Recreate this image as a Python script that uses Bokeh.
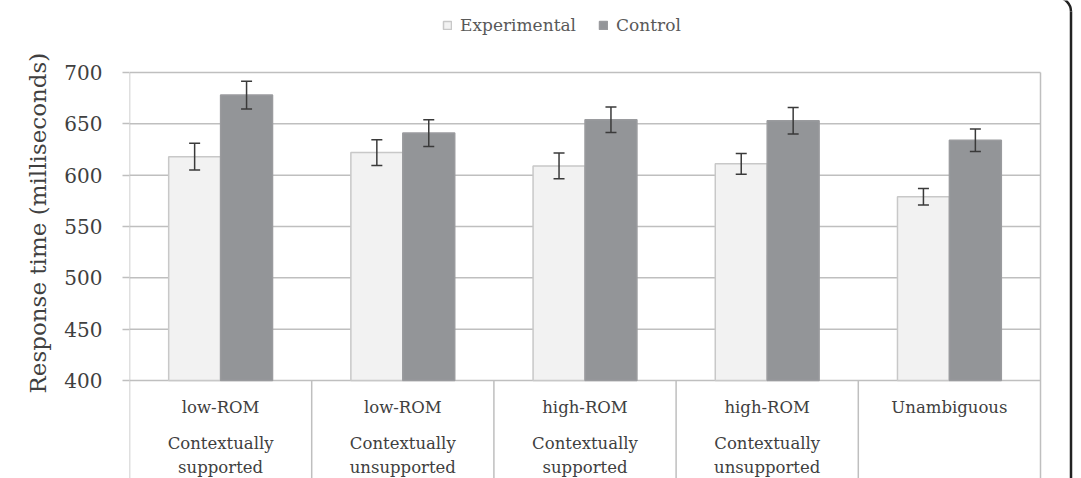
from bokeh.plotting import figure
from bokeh.models import (ColumnDataSource, Range1d, FixedTicker, Whisker, TeeHead,
                          Legend, LegendItem, Title)
from bokeh.transform import dodge
from bokeh.core.properties import value
from bokeh.embed import file_html
from bokeh.resources import INLINE

# ---- data ----
group_top = ["low-ROM", "low-ROM", "high-ROM", "high-ROM", "Unambiguous"]
group_sub = ["Contextually\nsupported", "Contextually\nunsupported",
             "Contextually\nsupported", "Contextually\nunsupported", ""]
experimental = [618, 622, 609, 611, 579]
experimental_err = [13, 12.5, 12.5, 10, 8]
control = [678, 641, 654, 653, 634]
control_err = [13.5, 13, 12.5, 13, 11]
y_ticks = [400, 450, 500, 550, 600, 650, 700]
series_names = ["Experimental", "Control"]
y_title = "Response time (milliseconds)"

# ---- layout constants ----
W, H = 1081, 478
LEFT, RIGHT = 129, 1040
Y_TOP_PX, Y_BASE_PX = 72, 380
n = len(group_top)
ppu = (Y_BASE_PX - Y_TOP_PX) / (y_ticks[-1] - y_ticks[0])   # px per y unit
ppx = (RIGHT - LEFT) / n                                     # px per category
y_end = y_ticks[-1] + Y_TOP_PX / ppu
y_start = y_ticks[0] - (H - Y_BASE_PX) / ppu
x_end = n + (W - RIGHT) / ppx
FONT = "DejaVu Serif"

def dx(px):
    return (px - LEFT) / ppx

def dy(py):
    return y_end - py / ppu

xc = [i + 0.5 for i in range(n)]
src = ColumnDataSource(dict(
    x=xc,
    exp=experimental,
    exp_lo=[v - e for v, e in zip(experimental, experimental_err)],
    exp_hi=[v + e for v, e in zip(experimental, experimental_err)],
    ctl=control,
    ctl_lo=[v - e for v, e in zip(control, control_err)],
    ctl_hi=[v + e for v, e in zip(control, control_err)],
    top=group_top,
    sub=group_sub,
))

p = figure(width=W, height=H, output_backend="svg", toolbar_location=None,
           x_range=Range1d(0, x_end), y_range=Range1d(y_start, y_end),
           min_border_left=LEFT, min_border_right=0,
           min_border_top=0, min_border_bottom=0)
p.outline_line_color = None
p.xaxis.visible = False
p.xgrid.visible = False
p.ygrid.visible = False
p.background_fill_color = "white"
p.border_fill_color = "white"

# y axis
ya = p.yaxis[0]
ya.ticker = FixedTicker(ticks=y_ticks)
ya.axis_line_color = None
ya.major_tick_line_color = "#BFBFBF"
ya.major_tick_line_width = 1.5
ya.major_tick_out = 7
ya.major_tick_in = 0
ya.minor_tick_line_color = None
ya.major_label_text_font = FONT
ya.major_label_text_font_size = "20px"
ya.major_label_text_color = "#404040"
ya.major_label_standoff = 20

# y axis title, starting just below the 400 baseline
ytitle = Title(text=y_title, align="left", offset=H - 393, standoff=22,
               text_font=FONT, text_font_size="23px", text_font_style="normal",
               text_color="#404040")
p.add_layout(ytitle, "left")

# horizontal gridlines (only across the categories)
p.segment(x0=[0] * len(y_ticks), y0=y_ticks, x1=[n] * len(y_ticks), y1=y_ticks,
          line_color="#BFBFBF", line_width=1.5)

# frame / category separators
sep_x = list(range(n + 1))
sep_y0 = [y_ticks[-1] if i in (0, n) else y_ticks[0] for i in sep_x]
p.segment(x0=sep_x, y0=sep_y0, x1=sep_x, y1=[y_start] * len(sep_x),
          line_color="#BFBFBF", line_width=1.5)

# bars
bw = 0.285
r_exp = p.vbar(x=dodge("x", -bw / 2, range=p.x_range), top="exp", bottom=y_ticks[0],
               width=bw, source=src, fill_color="#F2F2F2", line_color="#C8C8C8", line_width=1.5)
r_ctl = p.vbar(x=dodge("x", bw / 2, range=p.x_range), top="ctl", bottom=y_ticks[0],
               width=bw, source=src, fill_color="#939598", line_color="#9A9B9E", line_width=1.5)

# error bars
for key, off in (("exp", -bw / 2), ("ctl", bw / 2)):
    w = Whisker(base=dodge("x", off, range=p.x_range), lower=key + "_lo", upper=key + "_hi",
                source=src, line_color="#3a3a3a", line_width=1.5, level="overlay",
                upper_head=TeeHead(size=11, line_color="#3a3a3a", line_width=1.5),
                lower_head=TeeHead(size=11, line_color="#3a3a3a", line_width=1.5))
    p.add_layout(w)

# category labels
p.text(x="x", y=y_ticks[0], text="top", source=src, y_offset=27,
       text_align="center", text_baseline="middle",
       text_font=value(FONT), text_font_size="16.5px", text_color="#404040")
p.text(x="x", y=y_ticks[0], text="sub", source=src, y_offset=75,
       text_align="center", text_baseline="middle", text_line_height=1.3,
       text_font=value(FONT), text_font_size="16.5px", text_color="#404040")

# outer figure border (right edge with rounded top corner)
R = 14
BX, BY = 1070.5, 11
p.line(x=[dx(BX), dx(BX)], y=[dy(BY), y_start], line_color="#222222", line_width=2.5)
p.arc(x=dx(BX - R), y=dy(BY), radius=R, radius_units="screen",
      start_angle=0, end_angle=1.5708, line_color="#222222", line_width=2.5)

# legend
legend = Legend(items=[LegendItem(label=series_names[0], renderers=[r_exp]),
                       LegendItem(label=series_names[1], renderers=[r_ctl])],
                orientation="horizontal", location=(313, H - 35),
                glyph_width=10, glyph_height=10, label_standoff=8, spacing=22,
                padding=0, margin=0, border_line_color=None, background_fill_alpha=0,
                label_text_font=FONT, label_text_font_size="17px",
                label_text_color="#595959")
p.add_layout(legend, "center")

open("out.html", "w").write(file_html(p, INLINE))
